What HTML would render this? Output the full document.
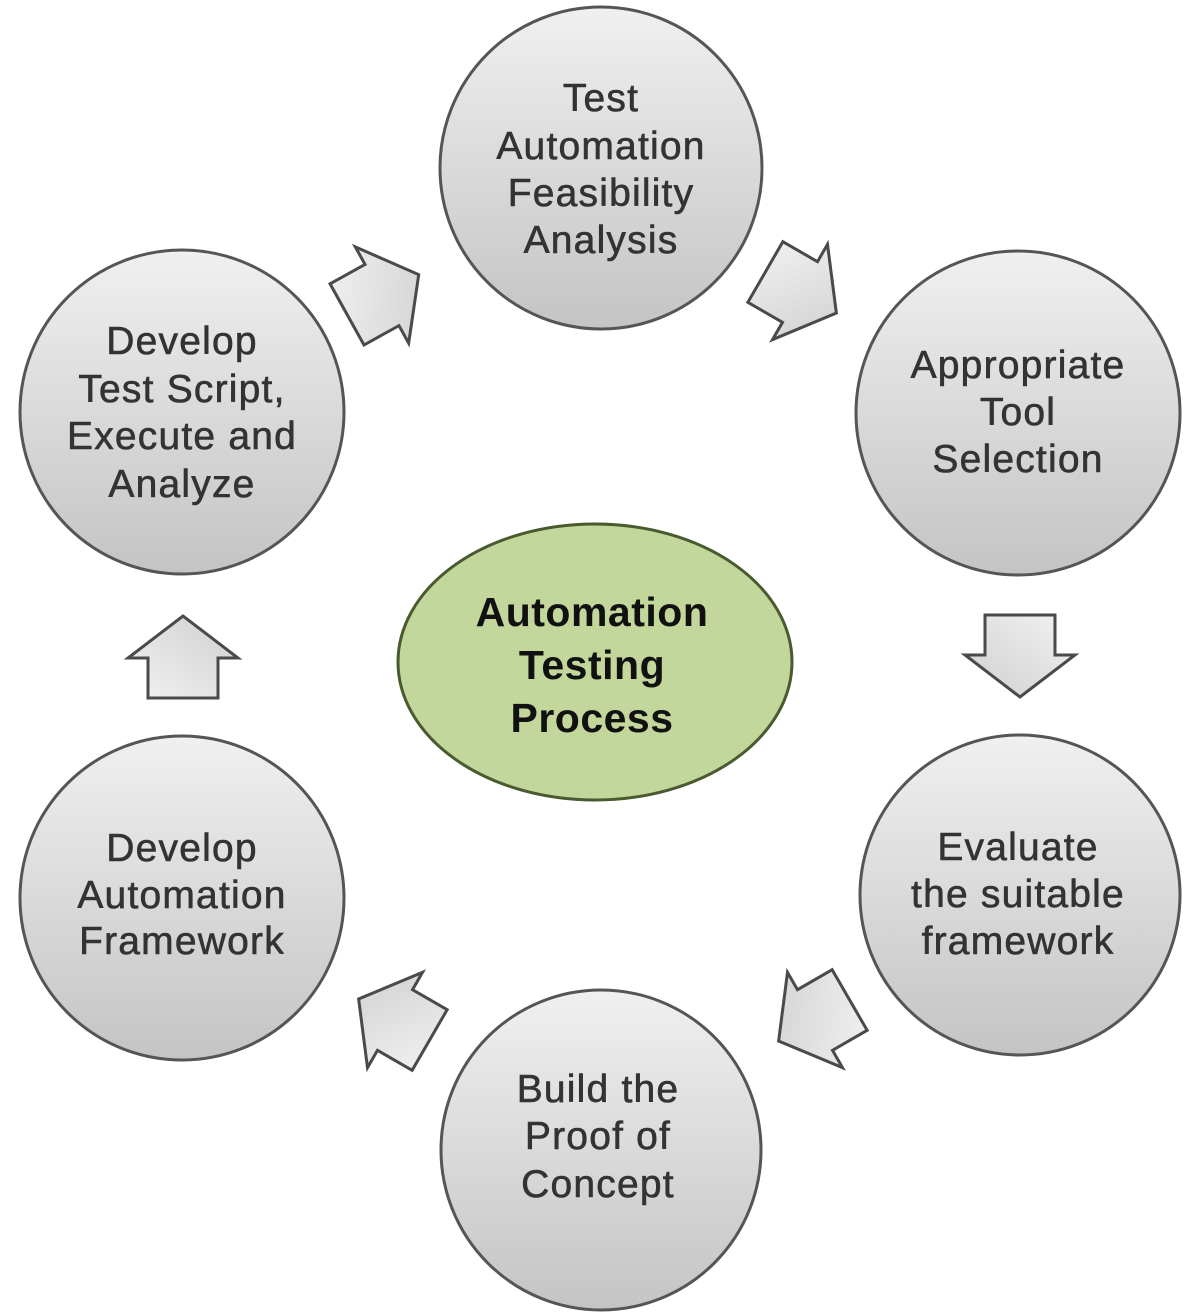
<!DOCTYPE html>
<html><head><meta charset="utf-8"><style>
html,body{margin:0;padding:0;background:#fff}
svg{display:block}
.t{font-family:"Liberation Sans",sans-serif;font-size:39px;fill:#333;text-anchor:middle;letter-spacing:1.2px;stroke:#333;stroke-width:0.6px}
.c{font-family:"Liberation Sans",sans-serif;font-size:41px;font-weight:bold;fill:#111;text-anchor:middle;letter-spacing:0.5px}
</style></head><body>
<svg width="1200" height="1314" viewBox="0 0 1200 1314" xmlns="http://www.w3.org/2000/svg">
<defs>
<linearGradient id="g" x1="0" y1="0" x2="0" y2="1">
<stop offset="0" stop-color="#f0f0f0"/><stop offset="1" stop-color="#c4c4c4"/>
</linearGradient>
<linearGradient id="ga" x1="0" y1="0" x2="1" y2="1">
<stop offset="0" stop-color="#f2f2f2"/><stop offset="1" stop-color="#cfcfcf"/>
</linearGradient>
<path id="arr" d="M-40,-35 L0,-35 L0,-55 L42,0 L0,55 L0,35 L-40,35 Z" fill="url(#ga)" stroke="#4a4a4a" stroke-width="3" stroke-linejoin="miter"/>
</defs>
<g stroke="#555" stroke-width="3" fill="url(#g)">
<circle cx="601" cy="168" r="161"/>
<circle cx="1018" cy="413" r="162"/>
<circle cx="1020" cy="895" r="160"/>
<circle cx="601" cy="1150" r="160"/>
<circle cx="182" cy="898" r="162"/>
<circle cx="182" cy="412" r="162"/>
</g>
<ellipse cx="595" cy="662" rx="197" ry="138" fill="#c3d69b" stroke="#4a5a30" stroke-width="3"/>
<use href="#arr" transform="translate(382,295) rotate(-29)"/>
<use href="#arr" transform="translate(800,292) rotate(30)"/>
<use href="#arr" transform="translate(1020,655) rotate(90)"/>
<use href="#arr" transform="translate(815,1020) rotate(150)"/>
<use href="#arr" transform="translate(395,1020) rotate(-150)"/>
<use href="#arr" transform="translate(183,658) rotate(-90)"/>
<g class="t">
<text x="601" y="111">Test</text><text x="601" y="159">Automation</text><text x="601" y="206">Feasibility</text><text x="601" y="253">Analysis</text>
<text x="1018" y="378">Appropriate</text><text x="1018" y="425">Tool</text><text x="1018" y="472">Selection</text>
<text x="1018" y="860">Evaluate</text><text x="1018" y="907">the suitable</text><text x="1018" y="954">framework</text>
<text x="598" y="1102">Build the</text><text x="598" y="1149">Proof of</text><text x="598" y="1197">Concept</text>
<text x="182" y="861">Develop</text><text x="182" y="908">Automation</text><text x="182" y="954">Framework</text>
<text x="182" y="354">Develop</text><text x="182" y="402">Test Script,</text><text x="182" y="449">Execute and</text><text x="182" y="497">Analyze</text>
</g>
<g class="c">
<text x="592" y="626">Automation</text><text x="592" y="679">Testing</text><text x="592" y="732">Process</text>
</g>
</svg>
</body></html>
